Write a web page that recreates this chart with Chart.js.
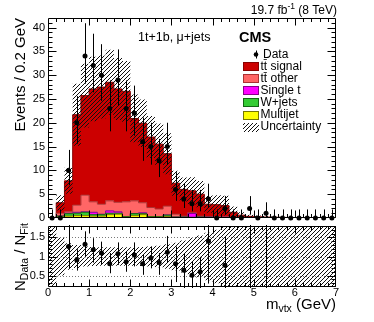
<!DOCTYPE html>
<html>
<head>
<meta charset="utf-8">
<script src="https://cdn.jsdelivr.net/npm/chart.js@4.4.1/dist/chart.umd.min.js"></script>
<style>
  html, body { margin: 0; padding: 0; background: #fff; }
  #wrap { position: relative; width: 374px; height: 322px; }
  canvas { position: absolute; left: 0; }
  #top { top: 0; }
  #bottom { top: 222px; }
</style>
</head>
<body>
<div id="wrap">
  <canvas id="top" width="374" height="222"></canvas>
  <canvas id="bottom" width="374" height="100"></canvas>
</div>
<script>
// m_vtx bins, lower edges in GeV (0.2 GeV wide)
const binLow = [0.0, 0.2, 0.4, 0.6, 0.8, 1.0, 1.2, 1.4, 1.6, 1.8, 2.0, 2.2, 2.4, 2.6, 2.8, 3.0, 3.2,
  3.4, 3.6, 3.8, 4.0, 4.2, 4.4, 4.6, 4.8, 5.0, 5.2, 5.4, 5.6, 5.8, 6.0, 6.2, 6.4, 6.6, 6.8];
const binWidth = 0.2;

// observed events and their (Poisson) error bars
const dataCounts = [0, 0, 10, 20, 34, 32, 30, 23, 29, 23, 22, 16, 15, 12, 15, 6, 4, 3, 3, 4, 0, 2, 0, 0, 2, 0, 1, 0, 0, 0, 0, 0, 0, 0, 0];
const dataErrLo = [0, 0, 3.1, 4.4, 5.8, 5.6, 5.4, 4.8, 5.4, 4.8, 4.7, 4.0, 3.8, 3.4, 3.8, 2.4, 1.9, 1.6, 1.6, 1.9, 0, 1.3, 0, 0, 1.3, 0, 0.8, 0, 0, 0, 0, 0, 0, 0, 0];
const dataErrHi = [1.8, 1.8, 4.3, 5.6, 6.9, 6.7, 6.5, 5.9, 6.4, 5.9, 5.8, 5.1, 5.0, 4.6, 5.0, 3.6, 3.2, 2.9, 2.9, 3.2, 1.8, 2.6, 1.8, 1.8, 2.6, 1.8, 2.3, 1.8, 1.8, 1.8, 1.8, 1.8, 1.8, 1.8, 1.8];

// fitted templates (stacked bottom to top)
const multijet = [0, 0.2, 0.4, 0.5, 0.5, 0.4, 0.4, 0.7, 0.8, 0.2, 0.5, 0.7, 0.2, 0.2, 0.3, 0.1, 0.1, 0.1, 0.1, 0.1, 0.05, 0.05, 0.05, 0.03, 0.03, 0.02, 0.02, 0.02, 0.01, 0.01, 0.01, 0.01, 0, 0, 0];
const wJets = [0, 0.2, 0.5, 0.5, 0.7, 0.3, 0.3, 0.3, 0.2, 0.1, 0.4, 0.2, 0.1, 0.1, 0.3, 0.1, 0.1, 0.05, 0.1, 0.05, 0.05, 0.05, 0.02, 0.02, 0.02, 0.01, 0.01, 0.01, 0.01, 0, 0, 0, 0, 0, 0];
const singleTop = [0, 0, 0.1, 0.2, 0.1, 0.5, 0.1, 0.5, 0.3, 0, 0.05, 0.2, 0, 0, 0.05, 0, 0, 0.8, 0, 0.05, 0.05, 0.05, 0.02, 0.02, 0.02, 0, 0, 0, 0, 0, 0, 0, 0, 0, 0];
const ttOther = [0, 0.6, 0.3, 1.5, 3.5, 2.2, 2.1, 2.1, 2.0, 3.1, 2.65, 2.1, 1.9, 1.6, 1.85, 0.6, 0.2, 0.2, 0.2, 0.1, 0.1, 0.1, 0.05, 0.03, 0.03, 0.02, 0.02, 0.01, 0.01, 0.01, 0.01, 0.01, 0.01, 0.01, 0.01];
const ttSignal = [0, 2.2, 6.5, 19.0, 20.9, 23.7, 24.6, 24.9, 23.8, 23.2, 17.3, 16.7, 14.8, 13.6, 11.0, 6.5, 5.6, 4.55, 4.6, 2.6, 2.55, 2.35, 1.06, 0.5, 0.25, 0.2, 0.15, 0.11, 0.09, 0.08, 0.06, 0.05, 0.05, 0.04, 0.03];

// relative uncertainty of the fit per bin
const uncRel = [1.0, 0.5, 0.35, 0.3, 0.26, 0.25, 0.24, 0.24, 0.24, 0.24, 0.24, 0.25, 0.26, 0.28, 0.32, 0.36, 0.42, 0.5, 0.55, 0.62, 0.7, 0.8, 1.0, 1.0, 1.0, 1.0, 1.0, 1.0, 1.0, 1.0, 1.0, 1.0, 1.0, 1.0, 1.0];

// N_Data / N_Fit and its error bar ends (null = nothing drawn)
const ratio = [null, null, 1.26, 0.91, 1.32, 1.18, 1.09, 0.81, 1.07, 0.86, 1.04, 0.81, 0.96, 0.84, 1.11, 0.81, 0.64, 0.51, 0.60, 1.40, null, 0.77, null, null, null, null, null, null, null, null, null, null, null, null, null];
const ratioLo = [null, null, 0.69, 0.63, 0.98, 0.84, 0.78, 0.56, 0.78, 0.60, 0.74, 0.52, 0.69, 0.52, 0.83, 0.33, 0.1, 0.1, 0.1, 0.29, null, 0.1, null, null, 0, null, 0, null, null, null, null, null, null, null, null];
const ratioHi = [null, null, 1.9, 1.19, 1.66, 1.48, 1.39, 1.09, 1.37, 1.13, 1.37, 1.04, 1.26, 1.09, 1.54, 1.26, 1.08, 0.88, 0.99, 2.0, null, 1.52, null, null, 3, null, 3, null, null, null, null, null, null, null, null];

const xTickLabels = [0, 1, 2, 3, 4, 5, 6, 7];
const yTickLabelsTop = [0, 5, 10, 15, 20, 25, 30, 35, 40];
const yTickLabelsRatio = [0.5, 1, 1.5];

const FONT = '"Liberation Sans", Arial, Helvetica, sans-serif';
Chart.defaults.font.family = FONT;
Chart.defaults.color = '#000';

// hatch pattern for the uncertainty band
function makeHatch() {
  const c = document.createElement('canvas');
  c.width = 4; c.height = 4;
  const g = c.getContext('2d');
  g.strokeStyle = '#111';
  g.lineWidth = 1;
  g.beginPath();
  g.moveTo(0, 4); g.lineTo(4, 0);
  g.moveTo(-1, 1); g.lineTo(1, -1);
  g.moveTo(3, 5); g.lineTo(5, 3);
  g.stroke();
  return g.createPattern(c, 'repeat');
}
const hatch = makeHatch();

// points at bin edges for a stepped line
function steps(vals) {
  const pts = binLow.map((x, i) => ({ x: x, y: vals[i] }));
  pts.push({ x: binLow[binLow.length - 1] + binWidth, y: vals[vals.length - 1] });
  return pts;
}

const total = binLow.map((_, i) => multijet[i] + wJets[i] + singleTop[i] + ttOther[i] + ttSignal[i]);
const bandHi = total.map((t, i) => t * (1 + uncRel[i]));
const bandLo = total.map((t, i) => Math.max(0, t * (1 - uncRel[i])));

// axis box of a fixed size, no label overflow padding
function fixSize(prop, size) {
  return s => {
    s[prop] = size;
    s.paddingTop = 0; s.paddingBottom = 0; s.paddingLeft = 0; s.paddingRight = 0;
  };
}

// text with sub/superscripts
function richText(ctx, parts, x, y, align) {
  let w = 0;
  parts.forEach(p => {
    ctx.font = (p.bold ? 'bold ' : '') + p.size + 'px ' + FONT;
    p.w = ctx.measureText(p.text).width;
    w += p.w;
  });
  let cx = align === 'right' ? x - w : x;
  ctx.textAlign = 'left';
  ctx.textBaseline = 'alphabetic';
  parts.forEach(p => {
    ctx.font = (p.bold ? 'bold ' : '') + p.size + 'px ' + FONT;
    ctx.fillText(p.text, cx, y + (p.dy || 0));
    cx += p.w;
  });
}

// error bars (and optional dotted guide lines) drawn just before the markers
const errorBars = {
  id: 'errorBars',
  beforeDatasetDraw(chart, args, opts) {
    const ds = chart.data.datasets[args.index];
    if (!ds.bars) return;
    const { ctx, chartArea: a, scales: { x, y } } = chart;
    ctx.save();
    ctx.beginPath();
    ctx.rect(a.left, a.top - 1, a.right - a.left, a.bottom - a.top + 2);
    ctx.clip();
    if (opts.guides) {
      ctx.strokeStyle = '#777';
      ctx.setLineDash([1, 2]);
      ctx.beginPath();
      opts.guides.forEach(v => {
        const py = Math.round(y.getPixelForValue(v)) + 0.5;
        ctx.moveTo(a.left, py); ctx.lineTo(a.right, py);
      });
      ctx.stroke();
      ctx.setLineDash([]);
    }
    ctx.strokeStyle = '#000';
    ctx.lineWidth = 1;
    ctx.beginPath();
    ds.bars.forEach(b => {
      const px = Math.round(x.getPixelForValue(b.x)) + 0.5;
      ctx.moveTo(px, y.getPixelForValue(b.lo));
      ctx.lineTo(px, y.getPixelForValue(b.hi));
    });
    ctx.stroke();
    ctx.restore();
  }
};

// ROOT style frame with inward ticks
const frameTicks = {
  id: 'frameTicks',
  afterDraw(chart, args, o) {
    const { ctx, chartArea: a, scales: { x, y } } = chart;
    ctx.save();
    ctx.strokeStyle = '#000';
    ctx.lineWidth = 1;
    ctx.beginPath();
    const L = Math.round(a.left) + 0.5, R = Math.round(a.right) - 0.5;
    const T = Math.round(a.top) + 0.5, B = Math.round(a.bottom) - 0.5;
    ctx.rect(L, T, R - L, B - T);
    const nx = Math.round((o.xMax - o.xMin) / o.xStep);
    for (let k = 1; k < nx; k++) {
      const px = Math.round(x.getPixelForValue(o.xMin + k * o.xStep)) + 0.5;
      const len = k % o.xPer === 0 ? o.xMajor : o.xMinor;
      ctx.moveTo(px, B); ctx.lineTo(px, B - len);
      ctx.moveTo(px, T); ctx.lineTo(px, T + len);
    }
    const ny = Math.round((o.yMax - o.yMin) / o.yStep);
    for (let k = 0; k <= ny; k++) {
      const v = o.yMin + k * o.yStep;
      if (v <= y.min || v >= y.max) continue;
      const py = Math.round(y.getPixelForValue(v)) + 0.5;
      const major = Math.abs(v / o.yMajorStep - Math.round(v / o.yMajorStep)) < 1e-6;
      const len = major ? o.yMajor : o.yMinor;
      ctx.moveTo(L, py); ctx.lineTo(L + len, py);
      ctx.moveTo(R, py); ctx.lineTo(R - len, py);
    }
    ctx.stroke();
    ctx.restore();
  }
};

// texts and legend of the upper pad
const topTexts = {
  id: 'topTexts',
  afterDraw(chart) {
    const ctx = chart.ctx;
    ctx.save();
    ctx.fillStyle = '#000';
    richText(ctx, [{ text: '19.7 fb', size: 12 }, { text: '-1', size: 8.5, dy: -5 }, { text: ' (8 TeV)', size: 12 }], 337, 14, 'right');
    richText(ctx, [{ text: '1t+1b, \u03bc+jets', size: 12.5 }], 138, 41, 'left');
    richText(ctx, [{ text: 'CMS', size: 14.5, bold: true }], 239, 42, 'left');

    ctx.save();
    ctx.translate(25, 18);
    ctx.rotate(-Math.PI / 2);
    richText(ctx, [{ text: 'Events / 0.2 GeV', size: 15 }], 0, 0, 'right');
    ctx.restore();

    // legend
    const rows = [
      { label: 'tt\u0304 signal', fill: '#cc0000', line: '#880000' },
      { label: 'tt\u0304 other', fill: '#ff6666', line: '#aa3333' },
      { label: 'Single t', fill: '#ff00ff', line: '#880088' },
      { label: 'W+jets', fill: '#33cc33', line: '#116611' },
      { label: 'Multijet', fill: '#ffff00', line: '#777700' },
      { label: 'Uncertainty', fill: hatch, line: null }
    ];
    const y0 = 54.5, dy = 12.1;
    ctx.fillStyle = '#000';
    ctx.beginPath();
    ctx.arc(256, y0, 2.3, 0, Math.PI * 2);
    ctx.fill();
    ctx.beginPath();
    ctx.moveTo(256.5, y0 - 4); ctx.lineTo(256.5, y0 + 4);
    ctx.strokeStyle = '#000';
    ctx.stroke();
    ctx.font = '12px ' + FONT;
    ctx.textBaseline = 'middle';
    ctx.fillText('Data', 263, y0);
    rows.forEach((r, i) => {
      const cy = y0 + dy * (i + 1);
      ctx.fillStyle = r.fill;
      ctx.fillRect(243, Math.round(cy - 4.5), 16, 9);
      if (r.line) {
        ctx.strokeStyle = r.line;
        ctx.strokeRect(243.5, Math.round(cy - 4.5) + 0.5, 15, 8);
      }
      ctx.fillStyle = '#000';
      ctx.font = '12px ' + FONT;
      ctx.textBaseline = 'middle';
      ctx.fillText(r.label, 260.5, cy);
    });
    ctx.restore();
  }
};

const bottomTexts = {
  id: 'bottomTexts',
  afterDraw(chart) {
    const ctx = chart.ctx;
    ctx.save();
    ctx.fillStyle = '#000';
    richText(ctx, [{ text: 'm', size: 15 }, { text: 'vtx', size: 10.5, dy: 3 }, { text: ' (GeV)', size: 15 }], 336, 87, 'right');
    ctx.translate(25, 1);
    ctx.rotate(-Math.PI / 2);
    richText(ctx, [{ text: 'N', size: 15 }, { text: 'Data', size: 10.5, dy: 3 }, { text: ' / N', size: 15 }, { text: 'Fit', size: 10.5, dy: 3 }], 0, 0, 'right');
    ctx.restore();
  }
};

function histo(label, vals, fill, line, fillMode, order) {
  return {
    label: label, data: steps(vals), stepped: 'before', fill: fillMode,
    backgroundColor: fill, borderColor: line, borderWidth: 1, pointRadius: 0, order: order
  };
}

const dataPts = binLow.map((lo, i) => ({ x: lo + binWidth / 2, y: dataCounts[i] }));
const dataBars = binLow.map((lo, i) => ({ x: lo + binWidth / 2, lo: dataCounts[i] - dataErrLo[i], hi: dataCounts[i] + dataErrHi[i] }));

new Chart(document.getElementById('top'), {
  type: 'line',
  data: {
    datasets: [
      { type: 'scatter', label: 'Data', data: dataPts, bars: dataBars, stack: 'data', pointRadius: 2.5,
        pointBackgroundColor: '#000', pointBorderWidth: 0, clip: false, order: 0 },
      { label: 'unc hi', data: steps(bandHi), stack: 'uncHi', stepped: 'before', borderWidth: 0, pointRadius: 0,
        fill: 2, backgroundColor: hatch, order: 1 },
      { label: 'unc lo', data: steps(bandLo), stack: 'uncLo', stepped: 'before', borderWidth: 0, pointRadius: 0,
        fill: false, order: 2 },
      histo('Multijet', multijet, '#ffff00', '#777700', 'origin', 3),
      histo('W+jets', wJets, '#33cc33', '#116611', '-1', 4),
      histo('Single t', singleTop, '#ff00ff', '#880088', '-1', 5),
      histo('tt other', ttOther, '#ff6666', '#aa3333', '-1', 6),
      histo('tt signal', ttSignal, '#cc0000', '#880000', '-1', 7)
    ]
  },
  options: {
    responsive: false, animation: false, devicePixelRatio: 1,
    layout: { padding: { left: 0, right: 38, top: 18, bottom: 4 } },
    plugins: {
      legend: { display: false }, tooltip: { enabled: false },
      errorBars: {},
      frameTicks: { xMin: 0, xMax: 7, xStep: 0.2, xPer: 5, xMajor: 7, xMinor: 3.5,
        yMin: 0, yMax: 42, yStep: 1, yMajorStep: 5, yMajor: 8, yMinor: 4 }
    },
    scales: {
      x: {
        type: 'linear', min: 0, max: 7,
        ticks: { display: false }, grid: { display: false, drawTicks: false }, border: { display: false },
        afterFit: fixSize('height', 0)
      },
      y: {
        min: 0, max: 42, stacked: true,
        afterBuildTicks: s => { s.ticks = yTickLabelsTop.map(v => ({ value: v })); },
        ticks: { font: { size: 11 }, padding: 3 },
        grid: { display: false, drawTicks: false }, border: { display: false },
        afterFit: fixSize('width', 48)
      }
    }
  },
  plugins: [errorBars, frameTicks, topTexts]
});

const ratioPts = [];
const ratioBars = [];
binLow.forEach((lo, i) => {
  const c = lo + binWidth / 2;
  if (ratio[i] !== null) ratioPts.push({ x: c, y: ratio[i] });
  if (ratioLo[i] !== null) ratioBars.push({ x: c, lo: ratioLo[i], hi: ratioHi[i] });
});

new Chart(document.getElementById('bottom'), {
  type: 'line',
  data: {
    datasets: [
      { type: 'scatter', label: 'ratio', data: ratioPts, bars: ratioBars, pointRadius: 2.5,
        pointBackgroundColor: '#000', pointBorderWidth: 0, order: 0 },
      { label: 'unc hi', data: steps(uncRel.map(u => 1 + u)), stepped: 'before', borderWidth: 0, pointRadius: 0,
        fill: 2, backgroundColor: hatch, order: 1 },
      { label: 'unc lo', data: steps(uncRel.map(u => 1 - u)), stepped: 'before', borderWidth: 0, pointRadius: 0,
        fill: false, order: 2 }
    ]
  },
  options: {
    responsive: false, animation: false, devicePixelRatio: 1,
    layout: { padding: { left: 0, right: 38, top: 3, bottom: 0 } },
    plugins: {
      legend: { display: false }, tooltip: { enabled: false },
      errorBars: { guides: yTickLabelsRatio },
      frameTicks: { xMin: 0, xMax: 7, xStep: 0.2, xPer: 5, xMajor: 7, xMinor: 3.5,
        yMin: 0.2, yMax: 1.8, yStep: 0.1, yMajorStep: 0.5, yMajor: 8, yMinor: 4 }
    },
    scales: {
      x: {
        type: 'linear', min: 0, max: 7,
        afterBuildTicks: s => { s.ticks = xTickLabels.map(v => ({ value: v })); },
        ticks: { font: { size: 11 }, padding: -1, autoSkip: false, maxRotation: 0 },
        grid: { display: false, drawTicks: false }, border: { display: false },
        afterFit: fixSize('height', 35)
      },
      y: {
        min: 0.2, max: 1.8,
        afterBuildTicks: s => { s.ticks = yTickLabelsRatio.map(v => ({ value: v })); },
        ticks: { font: { size: 11 }, padding: 3, callback: v => String(v) },
        grid: { display: false, drawTicks: false }, border: { display: false },
        afterFit: fixSize('width', 48)
      }
    }
  },
  plugins: [errorBars, frameTicks, bottomTexts]
});
</script>
</body>
</html>
